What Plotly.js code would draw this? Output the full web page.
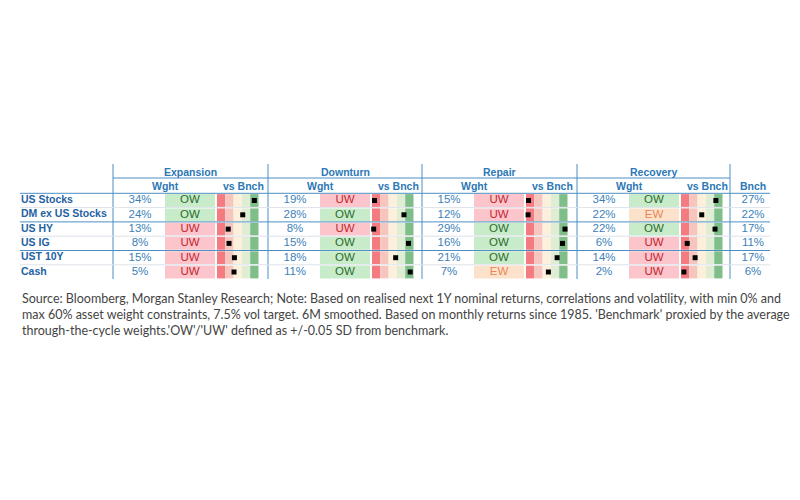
<!DOCTYPE html>
<html><head><meta charset="utf-8">
<script src="https://cdn.plot.ly/plotly-3.0.1.min.js"></script>
<style>html,body{margin:0;padding:0;background:#fff}#chart{width:800px;height:500px}</style>
</head><body><div id="chart"></div>
<script>
// ---- data ----
const assets = ["US Stocks","DM ex US Stocks","US HY","US IG","UST 10Y","Cash"];
const regimes = ["Expansion","Downturn","Repair","Recovery"];
const wExpansion = [34,24,13,8,15,5];
const wDownturn  = [19,28,8,15,18,11];
const wRepair    = [15,12,29,16,21,7];
const wRecovery  = [34,22,22,6,14,2];
const sigExpansion = ["OW","OW","UW","UW","UW","UW"];
const sigDownturn  = ["UW","OW","UW","OW","OW","OW"];
const sigRepair    = ["UW","UW","OW","OW","OW","EW"];
const sigRecovery  = ["OW","EW","OW","UW","UW","UW"];
// marker position on the vs-benchmark gauge (0 = far left/red, 1 = far right/green)
const posExpansion = [0.90,0.62,0.27,0.29,0.42,0.41];
const posDownturn  = [0.06,0.77,0.04,0.88,0.57,0.92];
const posRepair    = [0.06,0.05,0.94,0.88,0.75,0.54];
const posRecovery  = [0.84,0.50,0.82,0.15,0.34,0.07];
const bench = [27,22,17,11,17,6];
const footnote = [
 "Source: Bloomberg, Morgan Stanley Research; Note: Based on realised next 1Y nominal returns, correlations and volatility, with min 0% and",
 "max 60% asset weight constraints, 7.5% vol target. 6M smoothed. Based on monthly returns since 1985. 'Benchmark' proxied by the average",
 "through-the-cycle weights.'OW'/'UW' defined as +/-0.05 SD from benchmark."
];

// ---- layout constants ----
const W = [wExpansion,wDownturn,wRepair,wRecovery];
const S = [sigExpansion,sigDownturn,sigRepair,sigRecovery];
const P = [posExpansion,posDownturn,posRepair,posRecovery];
const G = [113,268,422,577];
const y0 = 200.5, pitch = 14.3, cellH = 12.8;
const yc = i => y0 + i*pitch;
const FONT = "Liberation Sans, Arial, sans-serif";
const blue = "#2b78b6", numBlue = "#3d7fb8", labBlue = "#1f62a3", lineBlue = "#4d8fc4";
const sigBg = {OW:"#c8ebc9", UW:"#fbc5cb", EW:"#fde2cb"};
const sigFg = {OW:"#2c6b2c", UW:"#c3262f", EW:"#e98656"};
const gaugeCols = ["#f47b80","#f6c5bd","#fcefdc","#deedd3","#7fbe89"];
const gW = 41.5, blkStep = gW/5;

const traces = [];
// signal cells
const cY=[],cX=[],cB=[],cC=[];
const tX=[],tY=[],tT=[],tC=[];
for (let g=0; g<4; g++) for (let i=0;i<assets.length;i++){
  cY.push(yc(i)); cB.push(G[g]+52); cX.push(50); cC.push(sigBg[S[g][i]]);
  tX.push(G[g]+77); tY.push(yc(i)); tT.push(S[g][i]); tC.push(sigFg[S[g][i]]);
}
traces.push({type:"bar",orientation:"h",y:cY,x:cX,base:cB,width:cellH,
  marker:{color:cC,line:{width:0}},hoverinfo:"skip"});
// gauge blocks
for (let k=0;k<5;k++){
  const yy=[],xx=[],bb=[];
  for (let g=0; g<4; g++) for (let i=0;i<assets.length;i++){
    yy.push(yc(i)); bb.push(G[g]+104+k*blkStep); xx.push(blkStep);
  }
  traces.push({type:"bar",orientation:"h",y:yy,x:xx,base:bb,width:cellH,
    marker:{color:gaugeCols[k],line:{width:0}},hoverinfo:"skip"});
}
// markers
const mX=[],mY=[];
for (let g=0; g<4; g++) for (let i=0;i<assets.length;i++){
  mX.push(G[g]+104+P[g][i]*gW); mY.push(yc(i));
}
traces.push({type:"scatter",mode:"markers",x:mX,y:mY,
  marker:{symbol:"square",size:5,color:"#000",line:{width:0}},hoverinfo:"skip"});
// signal text
traces.push({type:"scatter",mode:"text",x:tX,y:tY,text:tT,
  textfont:{family:FONT,size:11.5,color:tC},textposition:"middle center",hoverinfo:"skip"});
// weights
const nX=[],nY=[],nT=[];
for (let g=0; g<4; g++) for (let i=0;i<assets.length;i++){
  nX.push(G[g]+27); nY.push(yc(i)); nT.push(W[g][i]+"%");
}
for (let i=0;i<bench.length;i++){ nX.push(753); nY.push(yc(i)); nT.push(bench[i]+"%"); }
traces.push({type:"scatter",mode:"text",x:nX,y:nY,text:nT,
  textfont:{family:FONT,size:11.5,color:numBlue},textposition:"middle center",hoverinfo:"skip"});
// asset labels
traces.push({type:"scatter",mode:"text",x:assets.map(()=>21),y:assets.map((a,i)=>yc(i)),
  text:assets.map(a=>"<b>"+a+"</b>"),textfont:{family:FONT,size:10.5,color:labBlue},
  textposition:"middle right",hoverinfo:"skip"});

// ---- shapes (grid lines) ----
const shapes=[];
const ln=(x0,y0_,x1,y1,c)=>shapes.push({type:"line",xref:"x",yref:"y",x0,y0:y0_,x1,y1,line:{color:c,width:1}});
[113,268,422,577,730].forEach(x=>ln(x,164,x,279,lineBlue));
ln(113,178,730,178,lineBlue);
ln(20,193.3,770,193.3,lineBlue);
[1,3,5].forEach(i=>ln(20,193.3+i*pitch,770,193.3+i*pitch,"#dde3ea"));
[2,4].forEach(i=>ln(20,193.3+i*pitch,770,193.3+i*pitch,lineBlue));

// ---- annotations ----
const ann=[];
const hf={family:FONT,size:10.5,color:blue};
regimes.forEach((r,g)=>{
  const gr = (g<3?G[g+1]:730);
  ann.push({x:(G[g]+gr)/2,y:171.5,xref:"x",yref:"y",text:"<b>"+r+"</b>",showarrow:false,font:hf});
  ann.push({x:G[g]+52,y:186,xref:"x",yref:"y",text:"<b>Wght</b>",showarrow:false,font:hf});
  ann.push({x:G[g]+130,y:186,xref:"x",yref:"y",text:"<b>vs Bnch</b>",showarrow:false,font:hf});
});
ann.push({x:753,y:186,xref:"x",yref:"y",text:"<b>Bnch</b>",showarrow:false,font:hf});
footnote.forEach((t,k)=>ann.push({x:20,y:298+k*16,xref:"x",yref:"y",text:t,showarrow:false,
  xanchor:"left",yanchor:"middle",font:{family:"Lato, sans-serif",size:12.5,color:"#444"}}));

Plotly.newPlot("chart",traces,{
  width:800,height:500,margin:{l:0,r:0,t:0,b:0},
  paper_bgcolor:"#fff",plot_bgcolor:"#fff",showlegend:false,barmode:"overlay",
  xaxis:{range:[0,800],visible:false,fixedrange:true},
  yaxis:{range:[500,0],visible:false,fixedrange:true},
  shapes,annotations:ann,hovermode:false
},{staticPlot:true});
</script></body></html>
